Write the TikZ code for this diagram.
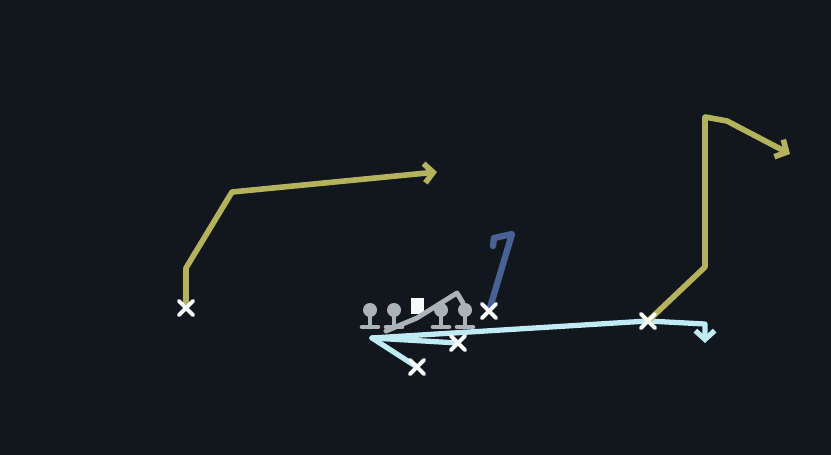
\documentclass[tikz,border=0pt]{standalone}
\usetikzlibrary{arrows.meta,shapes.misc}
\definecolor{bg}{RGB}{18,23,30}
\definecolor{routeyel}{RGB}{180,178,92}
\definecolor{routelb}{RGB}{192,234,244}
\definecolor{routedb}{RGB}{72,98,150}
\definecolor{blockgr}{RGB}{170,180,184}
\tikzset{>/.tip={Straight Barb[length=5pt,width=11pt]},
  yroute/.style={draw=routeyel, line width=3.2pt},
  lbroute/.style={draw=routelb, line width=3pt},
  dbroute/.style={draw=routedb, line width=3.6pt},
  blockln/.style={draw=blockgr, line width=2.8pt},
  xmark/.style={cross out, draw=white!95!routelb, line width=2.2pt, minimum size=0.2cm, inner sep=0pt},
  lhead/.style={circle, fill=blockgr, minimum size=0.28cm, inner sep=0pt},
  lstem/.style={draw=blockgr, line width=2.6pt},
  cbox/.style={rectangle, fill=white!92!blockgr, minimum width=0.26cm, minimum height=0.32cm, inner sep=0pt}}

\begin{document}
\begin{tikzpicture}[x=0.02cm, y=-0.02cm, line join=round, line cap=round]
\fill[bg] (0,0) rectangle (831,455);
\useasboundingbox (0,0) rectangle (831,455);

\coordinate (qb) at (372,338);
\coordinate (a1) at (186,268);
\coordinate (a2) at (232,192);
\coordinate (a3) at (437,172);
\coordinate (b1) at (705,267);
\coordinate (b2) at (705,117);
\coordinate (b3) at (727,121);
\coordinate (b4) at (790,154);
\coordinate (c1) at (705,324);
\coordinate (c2) at (705,343);
\coordinate (d1) at (512,234);
\coordinate (d2) at (494,238);
\coordinate (d3) at (493,246);
\coordinate (g1) at (386,331);
\coordinate (g2) at (417,318);
\coordinate (g3) at (457,293);
\coordinate (g4) at (463,303);

\node[cbox] (c) at (417,306) {};
\foreach \n/\px in {l1/370,l2/394,l4/441,l5/465} {
  \node[lhead] (\n) at (\px,310) {};
  \draw[lstem] (\n.center) -- ++(0,17) ++(-8,0) -- ++(16,0);
}

\node[xmark] (xl) at (186,308) {};
\node[xmark] (xr) at (648,321) {};
\node[xmark] (xd) at (489,311) {};
\node[xmark] (xs) at (458,343) {};
\node[xmark] (xt) at (417,367) {};

\draw[blockln] (g1) -- (g2) -- (g3) -- (g4);
\draw[lbroute] (qb) -- (xs.center);
\draw[lbroute] (qb) -- (xt.center);
\draw[lbroute,->] (qb) -- (xr.center) -- (c1) -- (c2);
\draw[yroute,->] (xl.center) -- (a1) -- (a2) -- (a3);
\draw[yroute,->] (xr.center) -- (b1) -- (b2) -- (b3) -- (b4);
\draw[dbroute] (xd.center) -- (d1) -- (d2) -- (d3);

\node[xmark] at (xl) {};
\node[xmark] at (xr) {};
\node[xmark] at (xd) {};
\node[xmark] at (xs) {};
\node[xmark] at (xt) {};
\end{tikzpicture}
\end{document}
